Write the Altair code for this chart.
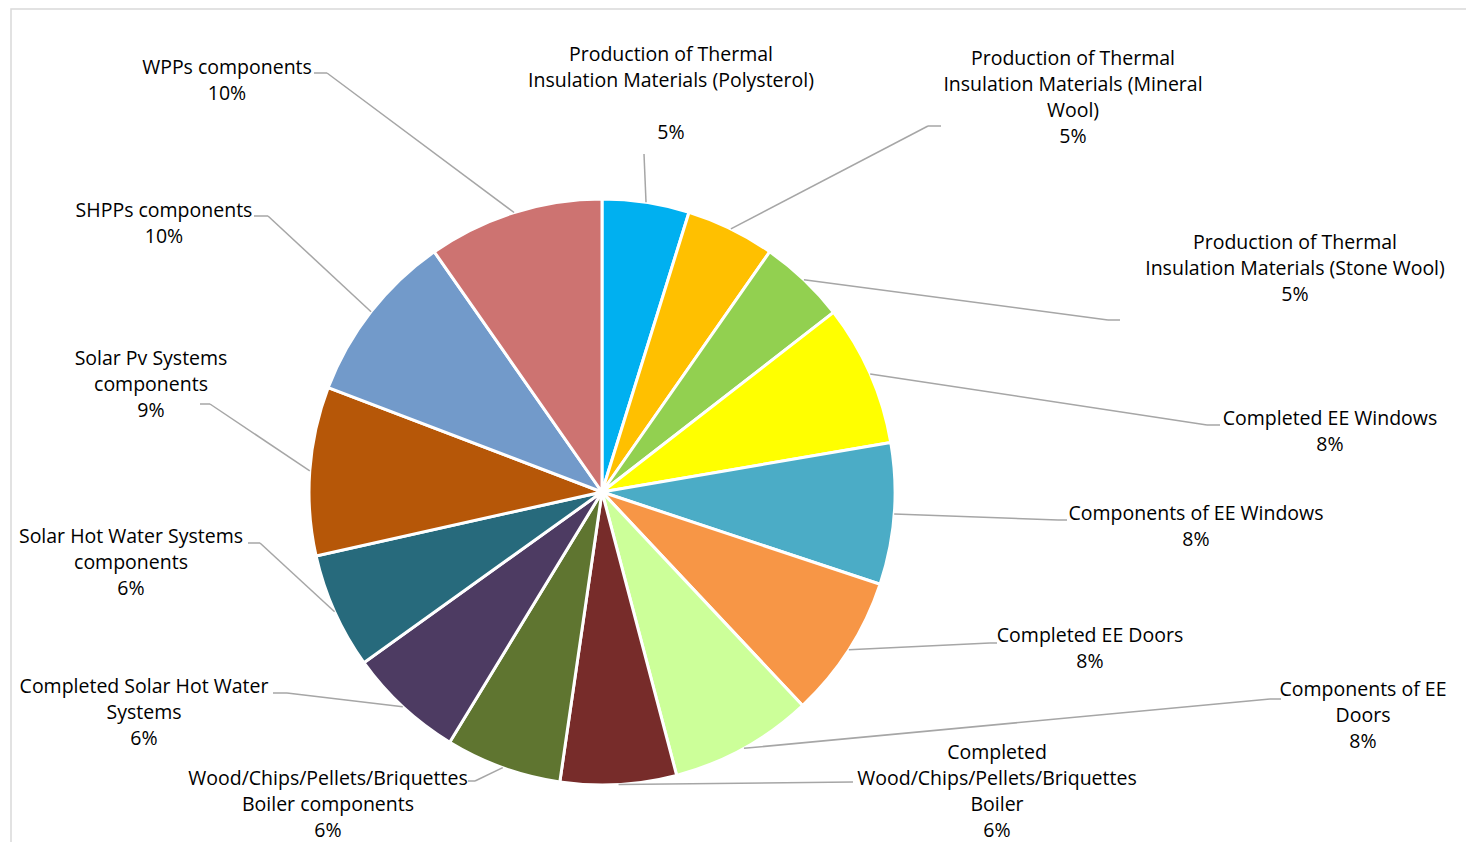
import altair as alt
import pandas as pd

# ---------------- data ----------------
categories = [
    "Production of Thermal Insulation Materials (Polysterol)",
    "Production of Thermal Insulation Materials (Mineral Wool)",
    "Production of Thermal Insulation Materials (Stone Wool)",
    "Completed EE Windows",
    "Components of EE Windows",
    "Completed EE Doors",
    "Components of EE Doors",
    "Completed Wood/Chips/Pellets/Briquettes Boiler",
    "Wood/Chips/Pellets/Briquettes Boiler components",
    "Completed Solar Hot Water Systems",
    "Solar Hot Water Systems components",
    "Solar Pv Systems components",
    "SHPPs components",
    "WPPs components",
]
values = [4.8, 4.9, 4.8, 7.8, 7.8, 7.9, 7.9, 6.4, 6.4, 6.4, 6.4, 9.3, 9.5, 9.7]
pct_labels = ["5%", "5%", "5%", "8%", "8%", "8%", "8%",
              "6%", "6%", "6%", "6%", "9%", "10%", "10%"]
label_lines = [
    ["Production of Thermal", "Insulation Materials (Polysterol)"],
    ["Production of Thermal", "Insulation Materials (Mineral", "Wool)"],
    ["Production of Thermal", "Insulation Materials (Stone Wool)"],
    ["Completed EE Windows"],
    ["Components of EE Windows"],
    ["Completed EE Doors"],
    ["Components of EE", "Doors"],
    ["Completed", "Wood/Chips/Pellets/Briquettes", "Boiler"],
    ["Wood/Chips/Pellets/Briquettes", "Boiler components"],
    ["Completed Solar Hot Water", "Systems"],
    ["Solar Hot Water Systems", "components"],
    ["Solar Pv Systems", "components"],
    ["SHPPs components"],
    ["WPPs components"],
]

# ---------------- styles ----------------
colors = ["#00B0F0", "#FFC000", "#92D050", "#FFFF00", "#4BACC6", "#F79646",
          "#CCFF99", "#772C2A", "#5F7530", "#4D3B62", "#276A7C", "#B65708",
          "#729ACA", "#CD7371"]
FONT = "Open Sans"
FS = 19.5
LH = 26

# ---------------- layout (page pixels) ----------------
PAGE = 8
W, H = 1458, 834
CX, CY, R = 602, 492, 293
# label anchor: centre x, first-line baseline y
label_pos = [(671, 61), (1073, 65), (1295, 249), (1330, 425), (1196, 520),
             (1090, 642), (1363, 696), (997, 759), (328, 785), (144, 693),
             (131, 543), (151, 365), (164, 217), (227, 74)]
# blank lines between the name and the percentage
pct_gap = [1, 0, 0, 0, 0, 0, 0, 0, 0, 0, 0, 0, 0, 0]
# leader elbow (x, y) and end of horizontal stub (x)
elbows = [(644, 154, 644), (928, 126, 941), (1108, 320, 1120), (1207, 425, 1220),
          (1058, 520, 1067), (990, 643, 997), (1270, 699, 1281), (853, 782, 853),
          (475, 781, 468), (287, 693, 273), (260, 543, 248), (210, 404, 200),
          (268, 216, 254), (327, 73, 314)]

df = pd.DataFrame({
    "order": list(range(len(categories))),
    "name": categories,
    "value": values,
    "label": ["\n".join(l) for l in label_lines],
    "pct": pct_labels,
    "lx": [p[0] - PAGE for p in label_pos],
    "ly": [p[1] - PAGE for p in label_pos],
    "py": [p[1] - PAGE + LH * (len(l) + g) for p, l, g in zip(label_pos, label_lines, pct_gap)],
    "ex": [e[0] - PAGE for e in elbows],
    "ey": [e[1] - PAGE for e in elbows],
    "hx": [e[2] - PAGE for e in elbows],
})

base = alt.Chart(df)

pie = base.mark_arc(outerRadius=R, stroke="white", strokeWidth=3,
                    x=CX - PAGE, y=CY - PAGE).encode(
    theta=alt.Theta("value:Q", stack=True),
    order=alt.Order("order:Q"),
    color=alt.Color("name:N", scale=alt.Scale(domain=categories, range=colors), legend=None),
)

lead = base.transform_joinaggregate(total="sum(value)").transform_window(
    cum="sum(value)", sort=[alt.SortField("order")], frame=[None, 0]
).transform_calculate(
    mid="2*PI*(datum.cum - datum.value/2)/datum.total"
).transform_calculate(
    sx=f"{CX - PAGE} + {R}*sin(datum.mid)",
    sy=f"{CY - PAGE} - {R}*cos(datum.mid)",
)

LINE = "#A6A6A6"
diag = lead.mark_rule(color=LINE, strokeWidth=1.5).encode(
    x=alt.X("sx:Q", scale=None), y=alt.Y("sy:Q", scale=None),
    x2="ex:Q", y2="ey:Q",
)
stub = base.mark_rule(color=LINE, strokeWidth=1.5).encode(
    x=alt.X("ex:Q", scale=None), y=alt.Y("ey:Q", scale=None),
    x2="hx:Q", y2="ey:Q",
)

names = base.mark_text(align="center", baseline="alphabetic", lineBreak="\n",
                       lineHeight=LH, font=FONT, fontSize=FS, color="#000000").encode(
    x=alt.X("lx:Q", scale=None), y=alt.Y("ly:Q", scale=None), text="label:N",
)
pcts = base.mark_text(align="center", baseline="alphabetic",
                      font=FONT, fontSize=FS, color="#000000").encode(
    x=alt.X("lx:Q", scale=None), y=alt.Y("py:Q", scale=None), text="pct:N",
)

frame = alt.Chart(pd.DataFrame({"a": [0]})).mark_rect(
    fill="transparent", stroke="#D9D9D9", strokeWidth=1.5).encode(
    x=alt.value(3), x2=alt.value(W + 20), y=alt.value(1), y2=alt.value(H + 20),
)

chart = alt.layer(frame, pie, diag, stub, names, pcts).properties(
    width=W, height=H, padding=0, autosize=alt.AutoSizeParams(type="none"),
).configure_view(stroke="transparent")

chart.save("out.html", embed_options={"renderer": "svg", "actions": False})
